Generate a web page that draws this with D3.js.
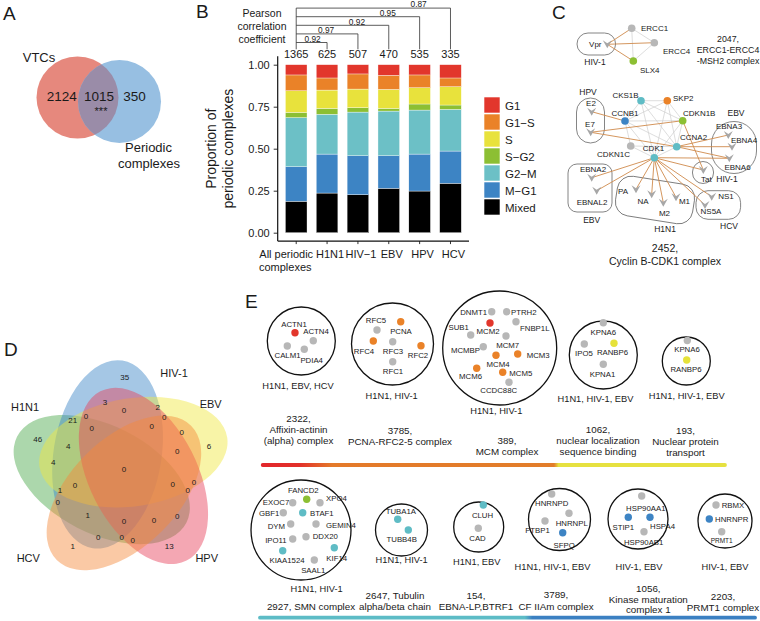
<!DOCTYPE html>
<html><head><meta charset="utf-8">
<script src="https://cdn.jsdelivr.net/npm/d3@7"></script>
<style>
html,body{margin:0;padding:0;background:#fff;}
svg{display:block;}
text{font-family:"Liberation Sans",Arial,Helvetica,sans-serif;fill:#1a1a1a;}
</style></head>
<body>
<svg id="fig" width="760" height="621" viewBox="0 0 760 621"></svg>
<script>
// ================= DATA =================
// Panel A
const vennASets = ["VTCs", "Periodic complexes"];
const vennACounts = [2124, 1015, 350];          // VTC only, both, periodic only
const vennASignif = "***";

// Panel B
const categories = ["All periodic complexes", "H1N1", "HIV\u22121", "EBV", "HPV", "HCV"];
const complexCounts = [1365, 625, 507, 470, 535, 335];
const phases = ["G1", "G1\u2212S", "S", "S\u2212G2", "G2\u2212M", "M\u2212G1", "Mixed"];
const propG1    = [0.061, 0.079, 0.055, 0.063, 0.061, 0.079];
const propG1S   = [0.094, 0.072, 0.090, 0.084, 0.076, 0.052];
const propS     = [0.129, 0.109, 0.111, 0.113, 0.097, 0.109];
const propSG2   = [0.031, 0.035, 0.026, 0.016, 0.036, 0.026];
const propG2M   = [0.292, 0.237, 0.260, 0.266, 0.262, 0.248];
const propMG1   = [0.206, 0.232, 0.232, 0.194, 0.220, 0.192];
const propMixed = [0.187, 0.236, 0.226, 0.264, 0.248, 0.294];
const yTicks = [0, 0.25, 0.5, 0.75, 1];
const pearsonR = [0.92, 0.97, 0.92, 0.95, 0.87];   // all periodic vs. each virus

// Panel C
const cHuman = ["ERCC1","ERCC4","SLX4","CKS1B","SKP2","CCNB1","CDKN1B","CCNA2","CDKN1C","CDK1"];
const cHumanPhase = [null,null,"S\u2212G2","G2\u2212M","G1\u2212S","M\u2212G1","S\u2212G2","G2\u2212M",null,"G2\u2212M"];
const cViral = ["Vpr","E2","E7","EBNA3","EBNA4","EBNA6","Tat","EBNA2","EBNAL2","PA","NA","M2","M1","NS1","NS5A"];
const cHostHost = [["ERCC1","ERCC4"],["ERCC1","SLX4"],["ERCC4","SLX4"],
  ["CKS1B","SKP2"],["CKS1B","CCNB1"],["CKS1B","CDKN1B"],["CKS1B","CCNA2"],["CKS1B","CDK1"],
  ["SKP2","CCNB1"],["SKP2","CDKN1B"],["SKP2","CCNA2"],["SKP2","CDK1"],
  ["CCNB1","CDKN1B"],["CCNB1","CCNA2"],["CCNB1","CDK1"],["CDKN1B","CCNA2"],["CDKN1B","CDK1"],
  ["CCNA2","CDK1"],["CDKN1C","CDK1"],["CDKN1C","CCNA2"],["CDKN1C","CCNB1"]];
const cVirusHost = [["Vpr","ERCC1"],["Vpr","ERCC4"],["Vpr","SLX4"],
  ["E2","CCNB1"],["E7","CDKN1B"],["E7","CCNA2"],
  ["EBNA3","CCNA2"],["EBNA4","CCNA2"],["EBNA6","CCNA2"],["EBNA6","CDK1"],
  ["Tat","CDKN1B"],["Tat","CDK1"],["EBNA2","CDK1"],["EBNAL2","CDK1"],
  ["PA","CDK1"],["NA","CDK1"],["M2","CDK1"],["M1","CDK1"],["NS1","CDK1"],["NS5A","CDK1"]];
const cGroupNames = ["HIV-1","HPV","EBV","HIV-1","EBV","H1N1","HCV"];
const cTitles = [["2047,","ERCC1-ERCC4","-MSH2 complex"],["2452,","Cyclin B-CDK1 complex"]];

// Panel D
const vennDSets = ["EBV","HPV","HCV","H1N1","HIV-1"];
const vennDCounts = [35,3,0,2,0,21,0,0,0,0,46,4,6,0,4,0,0,1,0,0,0,0,1,0,0,0,0,0,0,1,13];

// Panel E
const eTitles = [["2322,","Affixin-actinin","(alpha) complex"],["3785,","PCNA-RFC2-5 complex"],["389,","MCM complex"],
  ["1062,","nuclear localization","sequence binding"],["193,","Nuclear protein","transport"],
  ["2927, SMN complex"],["2647, Tubulin","alpha/beta chain"],["154,","EBNA-LP,BTRF1"],["3789,","CF IIAm complex"],
  ["1056,","Kinase maturation","complex 1"],["2203,","PRMT1 complex"]];
const eViruses = ["H1N1, EBV, HCV","H1N1, HIV-1","H1N1, HIV-1","H1N1, HIV-1, EBV","H1N1, HIV-1, EBV",
  "H1N1, HIV-1","H1N1, HIV-1","H1N1, EBV","H1N1, HIV-1, EBV","HIV-1, EBV","HIV-1, EBV"];
const eMembers = [["ACTN1","ACTN4","CALM1","PDIA4"],["RFC5","PCNA","RFC4","RFC3","RFC2","RFC1"],
  ["DNMT1","PTRH2","SUB1","MCM2","FNBP1L","MCM7","MCMBP","MCM3","MCM4","MCM6","MCM5","CCDC88C"],
  ["KPNA6","IPO5","RANBP6","KPNA1"],["KPNA6","RANBP6"],
  ["FANCD2","EXOC7","XPO4","GBF1","BTAF1","DYM","GEMIN4","IPO11","DDX20","KIAA1524","KIF14","SAAL1"],
  ["TUBA1A","TUBB4B"],["CLUH","CAD"],["HNRNPD","HNRNPL","PTBP1","SFPQ"],
  ["HSP90AA1","STIP1","HSPA4","HSP90AB1"],["RBMX","HNRNPR","PRMT1"]];
const G1="G1",G1S="G1\u2212S",S_="S",SG2="S\u2212G2",G2M="G2\u2212M",MG1="M\u2212G1",N=null;
const ePhases = [[G1,N,N,N],[N,G1S,G1S,N,G1S,N],[N,N,N,G1,N,N,N,G1S,G1S,G1S,G1S,N],[N,N,S_,N],[N,S_],
  [SG2,N,N,N,G2M,N,N,N,N,G2M,G2M,N],[G2M,G2M],[G2M,N],[N,N,N,MG1],[N,MG1,MG1,N],[N,MG1,N]];

// ================= STYLE / LAYOUT =================
const phaseColor = d3.scaleOrdinal().domain(phases)
  .range(["#e2362c","#ea8228","#e8e23c","#8cbf33","#6cc0c6","#3d84c4","#000000"]);
const nodeColor = p => p ? (p==="G2\u2212M" ? "#5fbcc5" : p==="S"? "#e6e23a" : phaseColor(p)) : "#b7b7b7";
const svg = d3.select("#fig");
function txt(g, x, y, s, size, anchor, fill) {
  return g.append("text").attr("x", x).attr("y", y).attr("font-size", size)
    .attr("text-anchor", anchor || "middle").attr("dominant-baseline", "central")
    .attr("fill", fill || "#1a1a1a").text(s);
}

// panel letters
const panelLetters = ["A","B","C","D","E"];
const letterXY = [[3,20],[196,17.5],[552,18.5],[4,356],[245,308]];
svg.selectAll("text.letter").data(panelLetters).join("text").attr("class","letter")
  .attr("x",(d,i)=>letterXY[i][0]).attr("y",(d,i)=>letterXY[i][1]).attr("font-size",19).text(d=>d);

// ================= PANEL A =================
(function(){
  const g = svg.append("g");
  const circ = [[77.5,97.5,41],[119.5,101.5,41.5]];
  const defs = svg.append("defs");
  defs.append("clipPath").attr("id","clipA").append("circle")
    .attr("cx",circ[0][0]).attr("cy",circ[0][1]).attr("r",circ[0][2]);
  g.append("circle").attr("cx",circ[0][0]).attr("cy",circ[0][1]).attr("r",circ[0][2]).attr("fill","#e6887d");
  g.append("circle").attr("cx",circ[1][0]).attr("cy",circ[1][1]).attr("r",circ[1][2]).attr("fill","#97bfe2");
  g.append("circle").attr("cx",circ[1][0]).attr("cy",circ[1][1]).attr("r",circ[1][2]).attr("fill","#9a8ca8")
    .attr("clip-path","url(#clipA)");
  txt(g, 39, 57, vennASets[0], 13);
  const pw = vennASets[1].split(" ");
  txt(g, 148.5, 147, pw[0], 13); txt(g, 149, 163.5, pw[1], 13);
  const cx = [61.7, 99, 134.5];
  vennACounts.forEach((v,i)=>txt(g, cx[i], 96, v, 13.5));
  txt(g, 101, 110.5, vennASignif, 11);
})();

// ================= PANEL B =================
(function(){
  const g = svg.append("g");
  const xB = d3.scaleBand().domain(categories).range([277.7,469]).paddingInner(0.3).paddingOuter(0.25);
  const yB = d3.scaleLinear().domain([0,1]).range([232.7,64.7]);
  const bw = xB.bandwidth();
  const cxB = c => xB(c) + bw/2;
  const props = [propG1, propG1S, propS, propSG2, propG2M, propMG1, propMixed];
  const rows = categories.map((c,i)=>{ const r={cat:c}; phases.forEach((p,j)=>r[p]=props[j][i]); return r; });
  const stacked = d3.stack().keys(phases.slice().reverse())(rows);
  g.selectAll("g.layer").data(stacked).join("g").attr("fill",d=>phaseColor(d.key))
    .selectAll("rect").data(d=>d).join("rect")
    .attr("x",d=>xB(d.data.cat)).attr("width",bw)
    .attr("y",d=>yB(d[1])).attr("height",d=>yB(d[0])-yB(d[1]))
    .attr("stroke","#fff").attr("stroke-width",0.35);

  // y axis
  const gy = g.append("g").attr("transform","translate(277.7,0)")
    .call(d3.axisLeft(yB).tickValues(yTicks).tickFormat(d3.format(".2f")).tickSize(4).tickPadding(4));
  gy.select(".domain").remove();
  gy.selectAll("line").attr("stroke","#333");
  gy.selectAll("text").attr("font-size",11).attr("fill","#333").attr("font-family",'"Liberation Sans",Arial,sans-serif');
  g.append("line").attr("x1",277.7).attr("x2",277.7).attr("y1",yB(1.05)).attr("y2",yB(-0.05))
    .attr("stroke","#111").attr("stroke-width",1.2);
  // x axis
  const base = yB(-0.05);
  const gx = g.append("g").attr("transform",`translate(0,${base})`)
    .call(d3.axisBottom(xB).tickSize(3).tickFormat(""));
  gx.select(".domain").remove();
  gx.selectAll("line").attr("stroke","#333");
  g.append("line").attr("x1",277.7).attr("x2",469).attr("y1",base).attr("y2",base)
    .attr("stroke","#111").attr("stroke-width",1.2);
  categories.forEach((c,i)=>{
    const words = c.split(" ");
    if (words.length > 1) {
      txt(g, cxB(c)-10, 254, words.slice(0,2).join(" "), 11, "middle", "#333");
      txt(g, cxB(c)-11, 267, words.slice(2).join(" "), 11, "middle", "#333");
    } else txt(g, cxB(c)+3, 254, c, 11, "middle", "#333");
  });
  // y title
  const yt = g.append("g").attr("transform","translate(219,148.7) rotate(-90)");
  txt(yt, 0, -8.5, "Proportion of", 14);
  txt(yt, 0, 8.5, "periodic complexes", 14);
  // counts
  categories.forEach((c,i)=>txt(g, cxB(c), 54.3, complexCounts[i], 11, "middle", "#222"));
  // dendrogram of Pearson correlations
  const x0 = cxB(categories[0]);
  const top = 42.5 - 4*8.6;
  g.append("path").attr("d",`M${x0},${top} V49.3`).attr("stroke","#333").attr("fill","none").attr("stroke-width",0.8);
  pearsonR.forEach((r,i)=>{
    const xi = cxB(categories[i+1]);
    const ly = 42.5 - i*8.6;
    g.append("path").attr("d",`M${x0},${ly} H${xi} V49.3`).attr("stroke","#333").attr("fill","none").attr("stroke-width",0.8);
    const lx = i===0 ? (x0+xi)/2 + 1 : cxB(categories[i]) - 1;
    txt(g, lx, ly-3.8, r.toFixed(2), 8.3, "middle", "#444");
  });
  ["Pearson","correlation","coefficient"].forEach((s,i)=>txt(g, 262, 13.3+i*12.7, s, 10.5, "middle", "#222"));
  // legend
  phases.forEach((p,i)=>{
    const yy = 97 + i*17;
    g.append("rect").attr("x",484).attr("y",yy).attr("width",16).attr("height",16).attr("fill",phaseColor(p))
      .attr("stroke","#fff").attr("stroke-width",0.6);
    txt(g, 505, yy+8.5, p, 11.5, "start", "#222");
  });
})();

// ================= PANEL C =================
(function(){
  const g = svg.append("g");
  const pos = {
    ERCC1:[631.7,28.3,641,28.3,"start"], ERCC4:[654.3,42.7,663,51.7,"start"], SLX4:[633.3,61,640,70.7,"start"],
    Vpr:[607.3,44.3,601.5,44.3,"end"],
    CKS1B:[641,100.7,625.5,95,"middle"], SKP2:[667.3,100.7,673,98.3,"start"], CCNB1:[625,121,625,113.3,"middle"],
    CDKN1B:[682.7,120.7,683,113.3,"start"], CCNA2:[676.7,146.7,680,137.3,"start"], CDKN1C:[630.7,146,630,154,"end"],
    CDK1:[654.3,157.7,653.5,148.3,"middle"],
    E2:[591.7,111.7,591,103.3,"middle"], E7:[590.7,132.3,590,124.3,"middle"],
    EBNA3:[728.3,135,729,126.3,"middle"], EBNA4:[732,146.7,744,140,"middle"], EBNA6:[729.3,158.3,737.5,167.5,"middle"],
    Tat:[703.3,170,706.3,179,"middle"], EBNA2:[591.7,177.7,593,169,"middle"], EBNAL2:[596.7,190.7,592,202,"middle"],
    PA:[636,189.3,623,191.7,"middle"], NA:[651.7,194.3,643,201,"middle"], M2:[663.3,202.7,664.5,213.3,"middle"],
    M1:[676,197.3,684.5,201,"middle"], NS1:[711.7,196.7,726,196,"middle"], NS5A:[705,205,711,211.7,"middle"]
  };
  // group outlines: cx, cy, rx, ry, corner, rotation, label x, label y
  const groupLayout = [[596.3,44,19.3,11,11,0,595,61.7],[590.5,120.5,14,22.5,14,0,588,92.3],
    [734,147.5,22.5,26,22.5,0,736,113.3],[703,172.5,10.5,11,10.5,0,727,179],
    [590,188,22,24,9,0,591.7,220],[655,200,39,20,14,9,665,229.3],[718.3,205,22.3,14.3,12,0,729,226]];
  groupLayout.forEach((l,i)=>{
    g.append("rect").attr("x",l[0]-l[2]).attr("y",l[1]-l[3]).attr("width",2*l[2]).attr("height",2*l[3])
      .attr("rx",l[4]).attr("ry",Math.min(l[4],l[3]))
      .attr("transform",`rotate(${l[5]},${l[0]},${l[1]})`)
      .attr("fill","none").attr("stroke","#666").attr("stroke-width",0.8);
    txt(g, l[6], l[7], cGroupNames[i], 8.5, "middle", "#333");
  });
  cHostHost.forEach(([a,b])=>g.append("line").attr("x1",pos[a][0]).attr("y1",pos[a][1]).attr("x2",pos[b][0]).attr("y2",pos[b][1])
    .attr("stroke","#cfcfcf").attr("stroke-width",0.7));
  cVirusHost.forEach(([a,b])=>g.append("line").attr("x1",pos[a][0]).attr("y1",pos[a][1]).attr("x2",pos[b][0]).attr("y2",pos[b][1])
    .attr("stroke","#cf8a4c").attr("stroke-width",0.9));
  cHuman.forEach((n,i)=>{
    g.append("circle").attr("cx",pos[n][0]).attr("cy",pos[n][1]).attr("r",3.8).attr("fill",nodeColor(cHumanPhase[i]));
    txt(g, pos[n][2], pos[n][3], n, 8, pos[n][4], "#222");
  });
  cViral.forEach(n=>{
    g.append("path").attr("d","M-4.5,-4 L0,-1 L4.5,-4 L0,4 Z").attr("transform",`translate(${pos[n][0]},${pos[n][1]})`)
      .attr("fill","#a7a7a7");
    txt(g, pos[n][2], pos[n][3], n, 8, pos[n][4], "#222");
  });
  cTitles[0].forEach((s,i)=>txt(g, 728, 39+i*11, s, 8.8, "middle", "#222"));
  cTitles[1].forEach((s,i)=>txt(g, 665, 248.3+i*12.4, s, 10.5, "middle", "#222"));
})();

// ================= PANEL D =================
(function(){
  const g = svg.append("g");
  const O = [122, 471], a = 95, b = 54, d = 22;
  const fills = ["#f0e640","#e6405a","#f58a3a","#4aa84a","#3a86c6"];
  const drawOrder = [3,4,0,1,2];
  drawOrder.forEach(k=>{
    const th = -9 + 72*k, ca = (th-50)*Math.PI/180;
    const cx = O[0] + d*Math.cos(ca), cy = O[1] + d*Math.sin(ca);
    g.append("ellipse").attr("cx",0).attr("cy",0).attr("rx",a).attr("ry",b)
      .attr("transform",`translate(${cx},${cy}) rotate(${th})`)
      .attr("fill",fills[k]).attr("fill-opacity",0.46);
  });
  const labelXY = [[210.7,404],[206.7,557.7],[28.3,557.7],[25,406.7],[174,373.3]];
  vennDSets.forEach((s,i)=>txt(g, labelXY[i][0], labelXY[i][1], s, 11, "middle", "#222"));
  const numXY = [[124.7,377.3],[105,402.3],[124,410.7],[157.7,407.3],[86,416],[72.7,420],[164.3,417.7],[91.7,428.3],
    [151.7,426],[181.7,432.7],[37.7,439],[68.3,446],[209,446],[177.3,451.7],[53.3,462.7],[124,469],[75,485.7],
    [60,490.7],[172.7,484],[194,482.3],[187.7,490.7],[57.7,502.7],[87.7,515.7],[124,521.7],[154,520],[177.3,516],
    [98.3,537.3],[121.7,537.3],[132.7,540.7],[72.7,546],[169.3,546]];
  vennDCounts.forEach((v,i)=>txt(g, numXY[i][0], numXY[i][1], v, 8, "middle", "#222"));
})();

// ================= PANEL E =================
(function(){
  const g = svg.append("g");
  const circles = [[301.3,341,34],[392.5,344,41],[499.7,348,57],[603.3,355,34],[686.3,361,24],
    [301,530,50],[401.5,530,26],[478.7,527,25],[559.5,519.5,31],[638,519,30],[725,521,27]];
  const virusXY = [[298,385.7],[391.7,396],[496.3,411],[595.5,399],[686.7,396],
    [316.7,589.3],[401.7,560],[476.7,561.7],[552.5,566.7],[639,566.7],[725,566.7]];
  const titleXY = [[298.5,418.3,11.2],[400,430,11],[507,440.5,11.2],[598,429.3,10.9],[685.5,430,11.2],
    [311,606,0],[395,595.5,10.8],[476,595.5,10.8],[556,594.5,11.5],[648.3,588.3,10.8],[723,596.5,10.8]];
  const nodeXY = [
    [[295,332.7,294,324,"m"],[313.3,340.7,316,331,"m"],[287.3,346,287.5,355,"m"],[304.3,349.3,311.7,360.5,"m"]],
    [[377,330,376,320.5,"m"],[400.7,321.7,401,331.7,"m"],[373.3,341,364,351,"m"],[392.7,341.7,393,351,"m"],[421,345.7,418,355,"m"],[392.7,361.7,393,371.7,"m"]],
    [[491.7,311.7,487,312.5,"e"],[506.7,311.7,511,312.5,"s"],[470.7,335,458.7,327.3,"m"],[490,323,488,331.7,"m"],
     [516,321.7,520,328.3,"s"],[506,336,507.7,345,"m"],[483.3,346.7,480,350.7,"e"],[517.7,354,526.7,355,"s"],
     [496,355.3,498,364,"m"],[476.7,368.3,470.5,376.7,"m"],[502.7,372.3,509.3,373.3,"s"],[509,382.3,498.7,390.7,"m"]],
    [[603.3,322.7,603.3,332.7,"m"],[584.3,344,584,353.3,"m"],[614,343.3,612.5,352.7,"m"],[603.3,364.3,602.5,374.3,"m"]],
    [[687.3,340.5,687,349.3,"m"],[686.7,360,686,369.3,"m"]],
    [[306.7,499.3,303.3,490,"m"],[292.7,502.7,289.3,502.7,"e"],[320,502.7,326,498.3,"s"],[283.3,512.7,279.3,513.3,"e"],
     [302.7,512.7,310,513.3,"s"],[290.7,524,285,526,"e"],[316,524,326,525.7,"s"],[292.7,539,286.7,540,"e"],
     [306,536.7,312.7,536.7,"s"],[282.7,550.7,287,560,"m"],[334.3,547.7,336.7,558.3,"m"],[314.3,560,313.3,570,"m"]],
    [[397.7,519.3,400.8,511.7,"m"],[408.3,530,401.7,539.3,"m"]],
    [[483.3,505,482.5,515,"m"],[478.3,528.3,477.5,538.3,"m"]],
    [[551.7,494,551.7,503.3,"m"],[569,513.3,571.7,523.3,"m"],[545,521,537.5,530,"m"],[562.7,532.7,564.2,545,"m"]],
    [[641.7,496,645.8,508.3,"m"],[628.3,517.3,623.3,527.3,"m"],[650,517.3,662.5,526.7,"m"],[644,531.7,643.7,542.7,"m"]],
    [[716,505,721.7,505,"s"],[709.3,519,715,519.3,"s"],[721.7,531.7,721.7,540,"m"]]
  ];
  const anch = {m:"middle", s:"start", e:"end"};
  eMembers.forEach((mem,i)=>{
    const c = circles[i];
    g.append("circle").attr("cx",c[0]).attr("cy",c[1]).attr("r",c[2]).attr("fill","none").attr("stroke","#111").attr("stroke-width",1.3);
    mem.forEach((m,j)=>{
      const p = nodeXY[i][j];
      g.append("circle").attr("cx",p[0]).attr("cy",p[1]).attr("r",3.7).attr("fill",nodeColor(ePhases[i][j]));
      txt(g, p[2], p[3], m, (m==="PRMT1")?6.5:7.8, anch[p[4]], "#222");
    });
    txt(g, virusXY[i][0], virusXY[i][1], eViruses[i], 9.3, "middle", "#222");
    eTitles[i].forEach((s,k)=>txt(g, titleXY[i][0], titleXY[i][1]+k*titleXY[i][2], s, 9.8, "middle", "#222"));
  });
  // gradient bars
  const defs = svg.append("defs");
  const g1 = defs.append("linearGradient").attr("id","gradTop").attr("gradientUnits","userSpaceOnUse")
    .attr("x1",262.7).attr("x2",725).attr("y1",0).attr("y2",0);
  [[0,"#e2262b"],[0.08,"#e2302a"],[0.15,"#e47a2a"],[0.63,"#e27d2a"],[0.64,"#e6e140"],[1,"#e6e140"]]
    .forEach(s=>g1.append("stop").attr("offset",s[0]).attr("stop-color",s[1]));
  const g2 = defs.append("linearGradient").attr("id","gradBot").attr("gradientUnits","userSpaceOnUse")
    .attr("x1",260).attr("x2",755).attr("y1",0).attr("y2",0);
  [[0,"#5dbcc6"],[0.535,"#5dbcc6"],[0.55,"#3b80c2"],[1,"#3b80c2"]]
    .forEach(s=>g2.append("stop").attr("offset",s[0]).attr("stop-color",s[1]));
  g.append("line").attr("x1",262.7).attr("x2",725).attr("y1",465).attr("y2",465)
    .attr("stroke","url(#gradTop)").attr("stroke-width",3.8).attr("stroke-linecap","round");
  g.append("line").attr("x1",260).attr("x2",755).attr("y1",617.7).attr("y2",617.7)
    .attr("stroke","url(#gradBot)").attr("stroke-width",3.8).attr("stroke-linecap","round");
})();
</script>
</body></html>
